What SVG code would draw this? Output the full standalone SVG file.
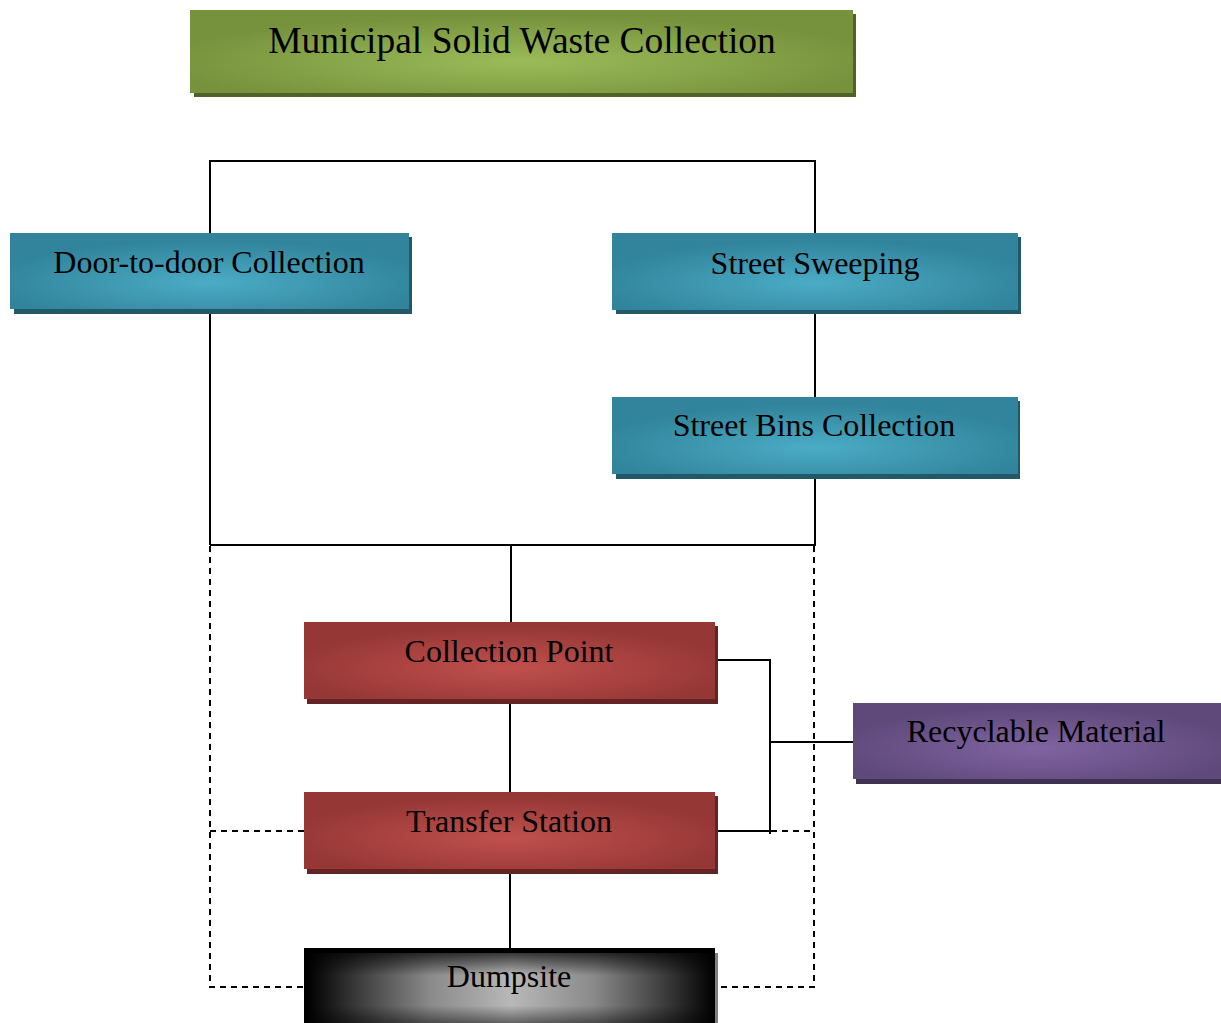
<svg xmlns="http://www.w3.org/2000/svg" width="1221" height="1023" viewBox="0 0 1221 1023">
<style>
.lbl{font-family:"Liberation Serif","Times New Roman",serif;font-size:32px;fill:#000;text-anchor:middle}
.title{font-size:37.5px}
.ln{fill:none;stroke:#000;stroke-width:2}
.dash{fill:none;stroke:#000;stroke-width:2;stroke-dasharray:6 5}
</style>
<defs>
<radialGradient id="gGreen" cx="0.5" cy="0.62" r="0.55"><stop offset="0" stop-color="#9bbb59"/><stop offset="1" stop-color="#76923c"/></radialGradient>
<radialGradient id="gTeal" cx="0.5" cy="0.65" r="0.55"><stop offset="0" stop-color="#4bacc6"/><stop offset="1" stop-color="#31849b"/></radialGradient>
<radialGradient id="gRed" cx="0.5" cy="0.6" r="0.55"><stop offset="0" stop-color="#c0504d"/><stop offset="1" stop-color="#953735"/></radialGradient>
<radialGradient id="gPurple" cx="0.5" cy="0.6" r="0.55"><stop offset="0" stop-color="#8064a2"/><stop offset="1" stop-color="#5f497a"/></radialGradient>
<linearGradient id="gBlackH" x1="0" y1="0" x2="1" y2="0"><stop offset="0" stop-color="#000"/><stop offset="0.12" stop-color="#3a3a3a"/><stop offset="0.3" stop-color="#8a8a8a"/><stop offset="0.5" stop-color="#b8b8b8"/><stop offset="0.7" stop-color="#8a8a8a"/><stop offset="0.88" stop-color="#3a3a3a"/><stop offset="1" stop-color="#000"/></linearGradient>
<linearGradient id="gBlackV" x1="0" y1="0" x2="0" y2="1"><stop offset="0" stop-color="#000" stop-opacity="0.7"/><stop offset="0.3" stop-color="#000" stop-opacity="0"/><stop offset="0.7" stop-color="#000" stop-opacity="0"/><stop offset="1" stop-color="#000" stop-opacity="0.6"/></linearGradient>
</defs>

<g id="connectors">
<path class="ln" d="M210,233 V161 H815 V233"/>
<path class="ln" d="M210,309 V545"/>
<path class="ln" d="M815,310 V397"/>
<path class="ln" d="M815,475 V545"/>
<path class="ln" d="M210,545 H816"/>
<path class="ln" d="M511,545 V622"/>
<path class="ln" d="M510,699 V792"/>
<path class="ln" d="M510,869 V948"/>
<path class="ln" d="M713,660 H770 V834"/>
<path class="ln" d="M713,831 H770"/>
<path class="ln" d="M770,742 H853"/>
<path class="dash" d="M210,546 V987 H304"/>
<path class="dash" d="M210,831 H304"/>
<path class="dash" d="M814,546 V987 H718"/>
<path class="dash" d="M771,831 H814"/>
</g>

<g id="title">
<rect x="194" y="14" width="662" height="83" fill="#4f6228"/>
<rect x="190" y="10" width="663" height="83" fill="url(#gGreen)"/>
<text class="lbl title" x="522" y="53">Municipal Solid Waste Collection</text>
</g>

<g id="door">
<rect x="14" y="237" width="398" height="77" fill="#215968"/>
<rect x="10" y="233" width="399" height="76" fill="url(#gTeal)"/>
<text class="lbl" x="209" y="273">Door-to-door Collection</text>
</g>

<g id="sweeping">
<rect x="616" y="237" width="405" height="77" fill="#215968"/>
<rect x="612" y="233" width="406" height="77" fill="url(#gTeal)"/>
<text class="lbl" x="815" y="274">Street Sweeping</text>
</g>

<g id="bins">
<rect x="616" y="401" width="404" height="78" fill="#215968"/>
<rect x="612" y="397" width="406" height="77" fill="url(#gTeal)"/>
<text class="lbl" x="814" y="436">Street Bins Collection</text>
</g>

<g id="collection">
<rect x="307" y="626" width="411" height="78" fill="#632423"/>
<rect x="304" y="622" width="411" height="77" fill="url(#gRed)"/>
<text class="lbl" x="509" y="662">Collection Point</text>
</g>

<g id="transfer">
<rect x="307" y="796" width="411" height="78" fill="#632423"/>
<rect x="304" y="792" width="411" height="77" fill="url(#gRed)"/>
<text class="lbl" x="509" y="832">Transfer Station</text>
</g>

<g id="recyclable">
<rect x="856" y="707" width="370" height="77" fill="#3f3151"/>
<rect x="853" y="703" width="370" height="76" fill="url(#gPurple)"/>
<text class="lbl" x="1036" y="742">Recyclable Material</text>
</g>

<g id="dumpsite">
<rect x="307" y="953" width="411" height="75" fill="#7f7f7f"/>
<rect x="304" y="948" width="411" height="80" fill="#000"/>
<rect x="308" y="953" width="407" height="75" fill="url(#gBlackH)"/>
<rect x="308" y="953" width="407" height="75" fill="url(#gBlackV)"/>
<text class="lbl" x="509" y="987">Dumpsite</text>
</g>
</svg>
